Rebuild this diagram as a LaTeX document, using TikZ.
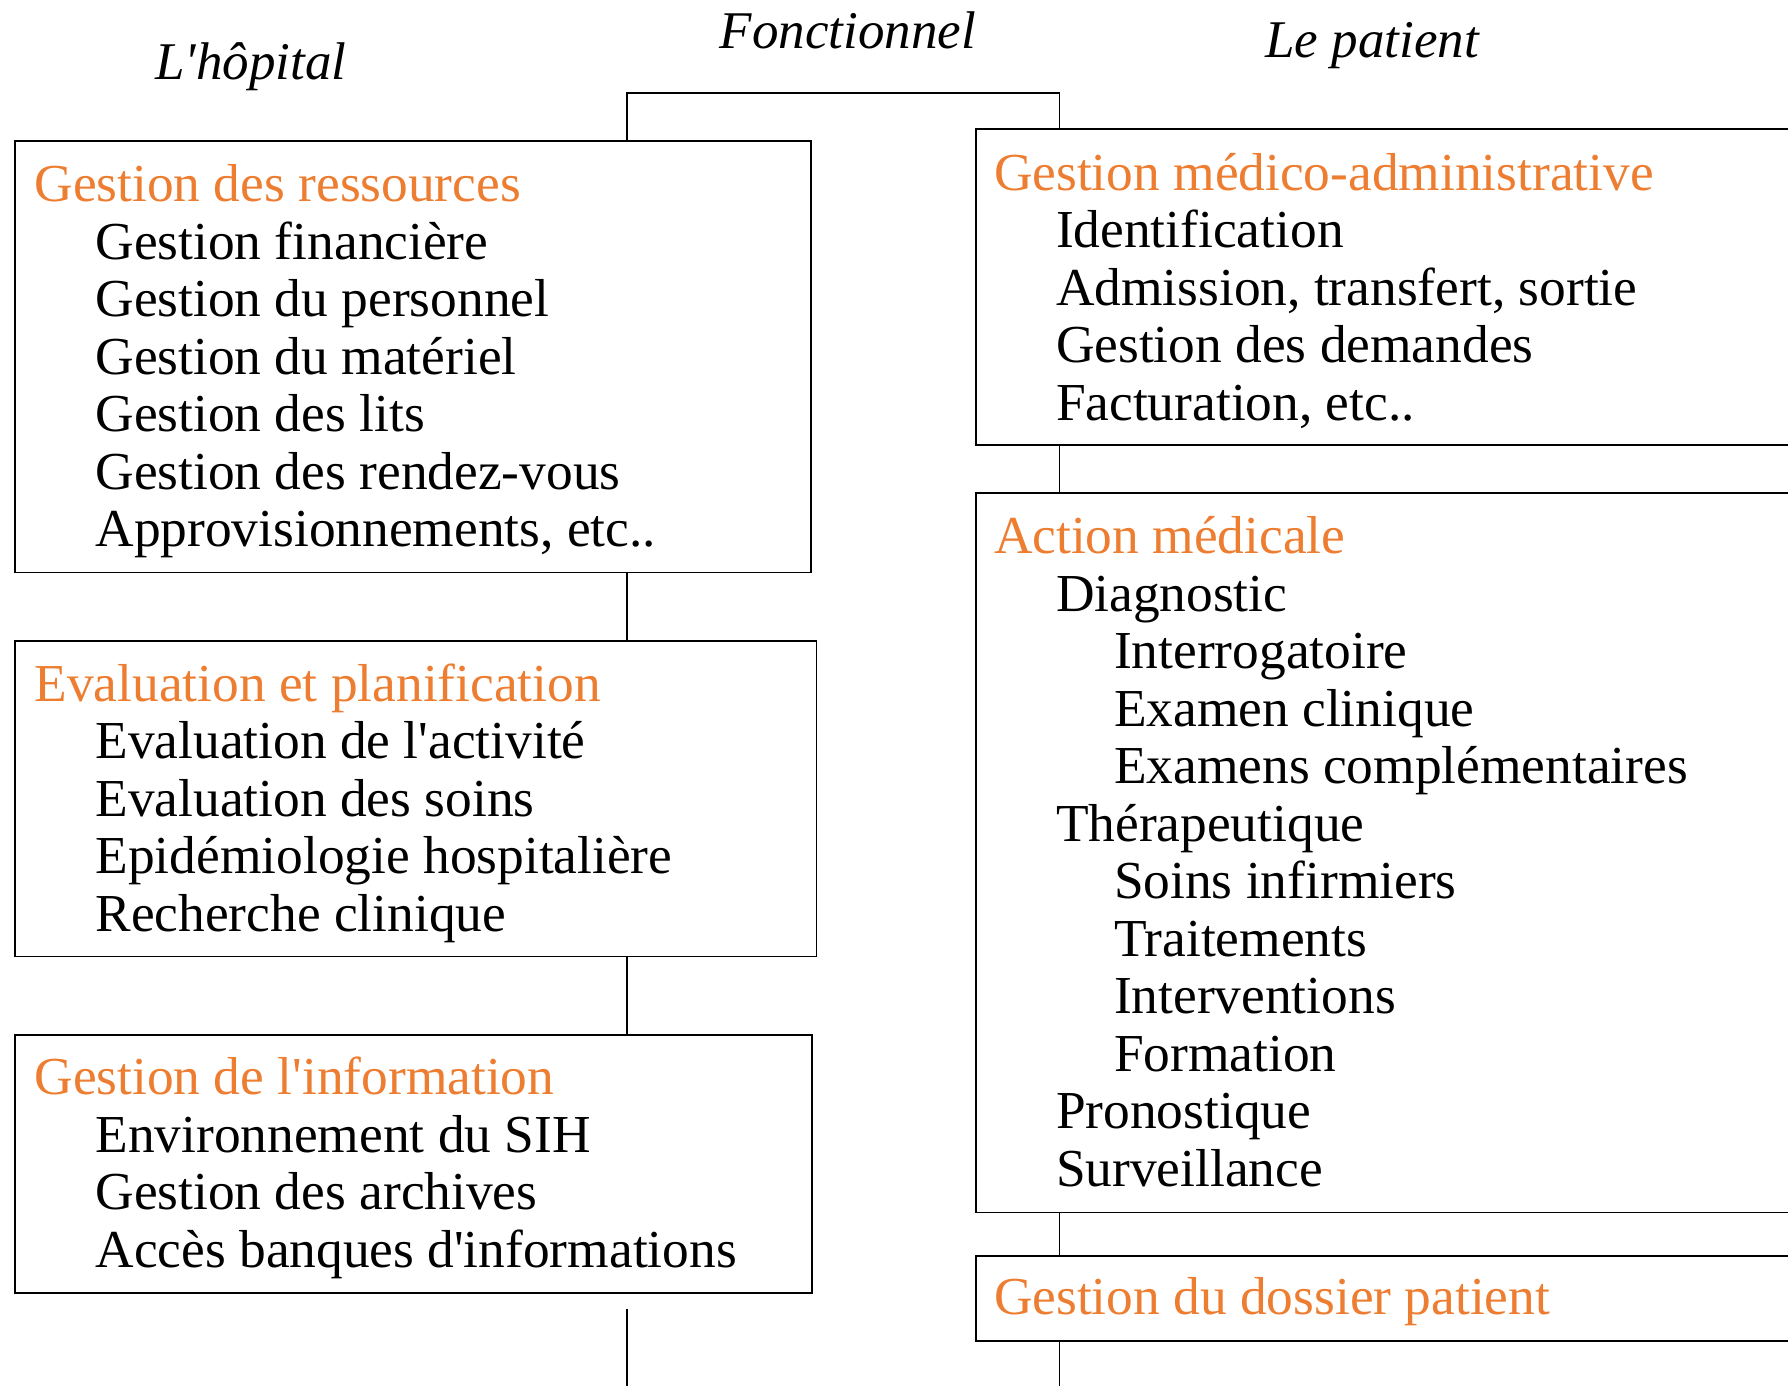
\documentclass[tikz,border=0pt]{standalone}
\usepackage{fontspec}
\setmainfont{Liberation Serif}[Ligatures=TeXOff]
\definecolor{titleorange}{HTML}{ED7D31}
\begin{document}
\begin{tikzpicture}[x=1pt,y=-1pt,
  boxst/.style={draw=black,line width=1.4pt,rectangle,inner sep=0pt,outer sep=0pt,anchor=north west},
  conn/.style={draw=black,line width=1.4pt},
  txt/.style={anchor=base west,inner sep=0pt,outer sep=0pt,font=\fontsize{53.4}{57.5}\selectfont},
  ttl/.style={txt,text=titleorange},
  hdr/.style={anchor=base,inner sep=0pt,outer sep=0pt,font=\fontsize{53}{57.5}\selectfont\itshape}]
\useasboundingbox (0,0) rectangle (1788,1385);
\clip (0,0) rectangle (1788,1385);
% headers
\node[hdr] (hH) at (251,79.5) {L'hôpital};
\node[hdr] (hF) at (848,48.2) {Fonctionnel};
\node[hdr] (hP) at (1372,57.1) {Le patient};
% boxes
\node[boxst,minimum width=796pt,minimum height=431.5pt] (b1) at (14.8,141) {};
\node[boxst,minimum width=801.7pt,minimum height=315.8pt] (b2) at (14.8,640.8) {};
\node[boxst,minimum width=797.2pt,minimum height=258pt] (b3) at (14.8,1035) {};
\node[boxst,minimum width=824pt,minimum height=316pt] (r1) at (976,129) {};
\node[boxst,minimum width=824pt,minimum height=719.5pt] (r2) at (976,493) {};
\node[boxst,minimum width=824pt,minimum height=85pt] (r3) at (976,1256) {};
% connectors
\coordinate (tl) at (627,92.8);
\coordinate (tr) at (1059.5,92.8);
\coordinate (lb) at (627,1309);
\coordinate (lbend) at (627,1400);
\coordinate (rbend) at (1059.5,1400);
\draw[conn] (b1.north -| tl) -- (tl) -- (tr) -- (r1.north -| tr);
\draw[conn] (b1.south -| tl) -- (b2.north -| tl);
\draw[conn] (b2.south -| tl) -- (b3.north -| tl);
\draw[conn] (lb) -- (lbend);
\draw[conn] (r1.south -| tr) -- (r2.north -| tr);
\draw[conn] (r2.south -| tr) -- (r3.north -| tr);
\draw[conn] (r3.south -| tr) -- (rbend);
% left box 1
\node[ttl] (a0) at (34.5,201) {Gestion des ressources};
\node[txt] (a1) at (95.5,259) {Gestion financière};
\node[txt] (a2) at (95.5,316.5) {Gestion du personnel};
\node[txt] (a3) at (95.5,374) {Gestion du matériel};
\node[txt] (a4) at (95.5,431.5) {Gestion des lits};
\node[txt] (a5) at (95.5,489) {Gestion des rendez-vous};
\node[txt] (a6) at (95.5,546.5) {Approvisionnements, etc..};
% left box 2
\node[ttl] (e0) at (34.5,701.2) {Evaluation et planification};
\node[txt] (e1) at (95.5,758.7) {Evaluation de l'activité};
\node[txt] (e2) at (95.5,816.2) {Evaluation des soins};
\node[txt] (e3) at (95.5,873.7) {Epidémiologie hospitalière};
\node[txt] (e4) at (95.5,931.2) {Recherche clinique};
% left box 3
\node[ttl] (g0) at (34.5,1094.8) {Gestion de l'information};
\node[txt] (g1) at (95.5,1152.3) {Environnement du SIH};
\node[txt] (g2) at (95.5,1209.8) {Gestion des archives};
\node[txt] (g3) at (95.5,1267.3) {Accès banques d'informations};
% right box 1
\node[ttl] (m0) at (994,190) {Gestion médico-administrative};
\node[txt] (m1) at (1056,247.5) {Identification};
\node[txt] (m2) at (1056,305) {Admission, transfert, sortie};
\node[txt] (m3) at (1056,362.5) {Gestion des demandes};
\node[txt] (m4) at (1056,420) {Facturation, etc..};
% right box 2
\node[ttl] (c0) at (994,553.6) {Action médicale};
\node[txt] (c1) at (1056,611.1) {Diagnostic};
\node[txt] (c2) at (1114,668.6) {Interrogatoire};
\node[txt] (c3) at (1114,726.1) {Examen clinique};
\node[txt] (c4) at (1114,783.6) {Examens complémentaires};
\node[txt] (c5) at (1056,841.1) {Thérapeutique};
\node[txt] (c6) at (1114,898.6) {Soins infirmiers};
\node[txt] (c7) at (1114,956.1) {Traitements};
\node[txt] (c8) at (1114,1013.6) {Interventions};
\node[txt] (c9) at (1114,1071.1) {Formation};
\node[txt] (c10) at (1056,1128.6) {Pronostique};
\node[txt] (c11) at (1056,1186.1) {Surveillance};
% right box 3
\node[ttl] (d0) at (994,1314.5) {Gestion du dossier patient};
\end{tikzpicture}
\end{document}
